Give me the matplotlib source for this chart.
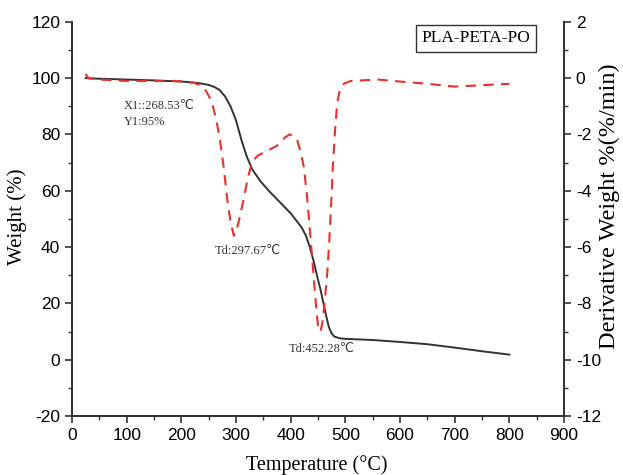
import numpy as np
import matplotlib.pyplot as plt
from matplotlib.ticker import MultipleLocator

# TG curve (weight %)
temp_tg = [25, 50, 100, 150, 200, 230, 250, 260, 270, 280, 290, 300, 310, 320,
           330, 345, 360, 380, 400, 410, 420, 428, 435, 442, 448, 455, 460, 465,
           470, 475, 480, 490, 500, 550, 600, 650, 700, 750, 800]
weight = [100, 99.8, 99.5, 99.2, 98.8, 98.3, 97.6, 96.9, 95.8, 93.5, 90, 85, 78, 72,
          67.5, 63.3, 60, 56, 52, 49.5, 47, 44, 40, 35, 30, 24.5, 20, 15.5,
          11.5, 9.3, 8.2, 7.6, 7.4, 7.0, 6.3, 5.5, 4.3, 3.0, 1.8]

# DTG curve (derivative weight %/min)
temp_dtg = [25, 30, 50, 100, 150, 190, 220, 235, 245, 255, 263, 270, 277, 284, 290,
            296, 300, 306, 314, 322, 330, 340, 355, 375, 390, 398, 405, 412, 418,
            424, 430, 436, 441, 446, 450, 452, 455, 458, 462, 467, 470, 474, 477,
            481, 485, 490, 497, 510, 560, 600, 650, 700, 750, 800]
deriv = [0.15, 0, -0.05, -0.1, -0.1, -0.1, -0.15, -0.25, -0.45, -0.8, -1.4, -2.1, -3.1, -4.3, -5.1,
         -5.6, -5.5, -5.0, -4.3, -3.5, -2.95, -2.75, -2.6, -2.4, -2.1, -2.0, -2.05, -2.2, -2.6,
         -3.15, -4.2, -5.6, -6.8, -8.0, -8.8, -9.0, -8.95, -8.7, -8.0, -6.9, -6.0, -4.5, -3.2,
         -1.9, -0.9, -0.4, -0.2, -0.1, -0.05, -0.12, -0.2, -0.3, -0.25, -0.2]

serif = ['Liberation Serif', 'DejaVu Sans']
plt.rcParams['font.family'] = ['Liberation Sans', 'DejaVu Sans']
plt.rcParams['axes.unicode_minus'] = False

fig = plt.figure(figsize=(6.23, 4.75), dpi=100)
ax = fig.add_axes([0.1156, 0.1242, 0.7897, 0.8298])
ax2 = ax.twinx()

ax.plot(temp_tg, weight, color='#333333', lw=1.4, zorder=3)
ax2.plot(temp_dtg, deriv, color='#e8312b', lw=1.5, ls=(0, (5, 3.5)))

ax.set_xlim(0, 900)
ax.set_ylim(-20, 120)
ax2.set_ylim(-12, 2)
ax.xaxis.set_major_locator(MultipleLocator(100))
ax.xaxis.set_minor_locator(MultipleLocator(50))
ax.yaxis.set_major_locator(MultipleLocator(20))
ax.yaxis.set_minor_locator(MultipleLocator(10))
ax2.yaxis.set_major_locator(MultipleLocator(2))
ax2.yaxis.set_minor_locator(MultipleLocator(1))

for a in (ax, ax2):
    a.spines['top'].set_visible(False)
    for s in a.spines.values():
        s.set_color('#333333')
        s.set_linewidth(1.3)
    a.tick_params(which='major', direction='out', length=5, width=1.2, labelsize=12.5, color='#333333')
    a.tick_params(which='minor', direction='out', length=3, width=1.0, color='#333333')

ax.set_xlabel('Temperature (°C)', family=serif, fontsize=14.5)
ax.xaxis.set_label_coords(0.498, -0.098)
ax.set_ylabel('Weight (%)', family=serif, fontsize=15)
ax.yaxis.set_label_coords(-0.091, 0.505)
ax2.set_ylabel('Derivative Weight %(%/min)', family=serif, fontsize=17.5)
ax2.yaxis.set_label_coords(1.07, 0.533)

ax.text(95, 90, 'X1::268.53℃', family=serif, fontsize=9, color='#333333', va='center')
ax.text(95, 84.5, 'Y1:95%', family=serif, fontsize=9, color='#333333', va='center')
ax.text(262, 38.5, 'Td:297.67℃', family=serif, fontsize=9, color='#333333', va='center')
ax.text(396, 3.8, 'Td:452.28℃', family=serif, fontsize=9, color='#333333', va='center')

ax.text(0.821, 0.958, 'PLA-PETA-PO', transform=ax.transAxes, family=serif, fontsize=12.5,
        ha='center', va='center',
        bbox=dict(boxstyle='square,pad=0.3', fc='white', ec='#333333', lw=1))

fig.savefig('out.png', dpi=100)
